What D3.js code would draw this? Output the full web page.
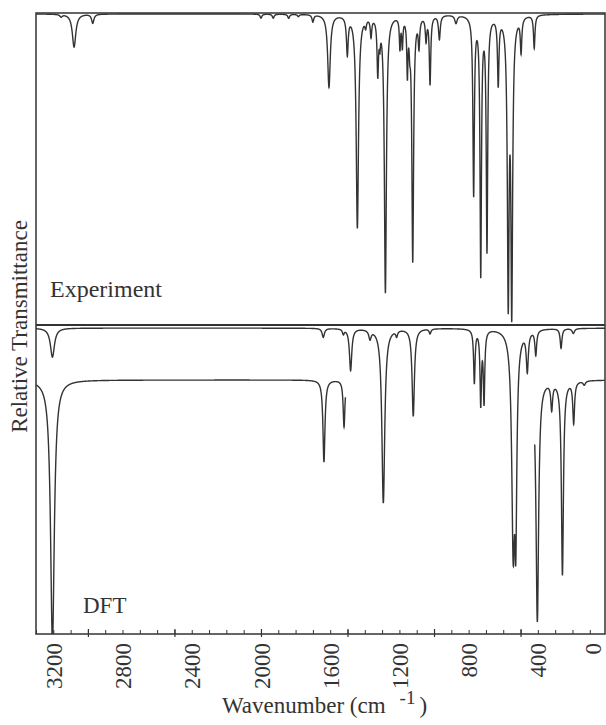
<!DOCTYPE html>
<html>
<head>
<meta charset="utf-8">
<script src="https://cdn.jsdelivr.net/npm/d3@7"></script>
<style>
html,body{margin:0;padding:0;background:#fff;}
svg{display:block;}
</style>
</head>
<body>
<svg id="chart" width="606" height="725"></svg>
<script>
// ---------------- data ----------------
const xDomain = [3300, 12];                 // wavenumber, cm-1 (left to right)
const tickLabels = [3200, 2800, 2400, 2000, 1600, 1200, 800, 400, 0];
const minorTicks = d3.range(3300, 0, -100);
const majorTicks = [3000, 2500, 2000, 1500, 1000, 500];

// Experiment: [wavenumber, minimum transmittance (%), half width (cm-1)]
const experimentBaseline = 99.7;
const experimentPeaks = [
  [3155, 98.9, 8], [3080, 89.1, 12], [2972, 96.8, 8],
  [2000, 98.4, 6], [1929, 98.4, 6], [1840, 98.4, 6], [1784, 99.0, 6], [1700, 97.4, 6],
  [1607, 76.3, 9], [1501, 87.5, 6], [1443, 31.1, 8], [1395, 97.1, 5], [1364, 93.6, 5],
  [1325, 81.7, 5], [1313, 93.6, 4], [1281, 10.3, 7], [1197, 89.7, 4], [1183, 90.4, 4],
  [1154, 81.7, 4], [1140, 92.9, 4], [1123, 20.2, 6], [1087, 90.4, 5], [1046, 92.0, 5],
  [1023, 77.6, 5], [969, 92.0, 6], [873, 97.1, 8], [771, 41.7, 5], [730, 15.4, 5],
  [694, 23.4, 5], [629, 77.9, 5], [571, 3.8, 6], [551, 1.0, 6], [497, 88.5, 5], [421, 89.1, 5]
];

// DFT, upper trace
const dftUpperBaseline = 99.0;
const dftUpperPeaks = [
  [3205, 89.6, 14], [1640, 96.1, 8], [1524, 97.4, 6], [1482, 85.4, 8], [1370, 96.1, 8],
  [1293, 42.4, 10], [1216, 97.1, 6], [1120, 70.6, 8], [1023, 97.4, 6], [767, 81.6, 5],
  [730, 74.8, 5], [711, 75.4, 5], [542, 25.6, 10], [528, 29.4, 7], [461, 86.1, 7],
  [412, 90.9, 6], [266, 92.6, 6], [195, 97.4, 8]
];

// DFT, lower trace (drawn over two wavenumber ranges)
const dftLowerBaseline = 82.2;
const dftLowerPeaks = [
  [3205, -3, 13], [1636, 55.7, 7], [1520, 67.0, 6], [403, 3.9, 9], [320, 73.5, 6],
  [258, 19.1, 7], [193, 68.6, 6], [132, 80.9, 8]
];
const dftLowerRanges = [[3300, 1512], [418, 12]];

// ---------------- drawing ----------------
const W = 606, H = 725;
const plot = {left: 36, right: 605, top: 13, mid: 325, bottom: 634};
const font = "'Liberation Serif','Times New Roman',Times,serif";
const ink = "#333";

const x = d3.scaleLinear().domain(xDomain).range([plot.left, plot.right]);
const yTop = d3.scaleLinear().domain([0, 100]).range([plot.mid, plot.top]);
const yBot = d3.scaleLinear().domain([0, 100]).range([plot.bottom, plot.mid]);

function spectrum(base, peaks, from, to) {
  const pts = [];
  for (let w = from; w >= to; w -= 0.5) {
    let t = base;
    for (const [c, m, g] of peaks) {
      const d = 1 - m / base;
      const dx = w - c;
      t *= 1 - d * g * g / (dx * dx + g * g);
    }
    pts.push([w, t]);
  }
  return pts;
}

const svg = d3.select("#chart");
const defs = svg.append("defs");
defs.append("clipPath").attr("id", "clipTop").append("rect")
  .attr("x", plot.left).attr("y", plot.top)
  .attr("width", plot.right - plot.left).attr("height", plot.mid - plot.top);
defs.append("clipPath").attr("id", "clipBot").append("rect")
  .attr("x", plot.left).attr("y", plot.mid)
  .attr("width", plot.right - plot.left).attr("height", plot.bottom - plot.mid);

const lineTop = d3.line().x(d => x(d[0])).y(d => yTop(d[1]));
const lineBot = d3.line().x(d => x(d[0])).y(d => yBot(d[1]));

const gTop = svg.append("g").attr("clip-path", "url(#clipTop)");
gTop.append("path")
  .attr("d", lineTop(spectrum(experimentBaseline, experimentPeaks, xDomain[0], xDomain[1])))
  .attr("fill", "none").attr("stroke", ink).attr("stroke-width", 1.4);

const gBot = svg.append("g").attr("clip-path", "url(#clipBot)");
gBot.append("path")
  .attr("d", lineBot(spectrum(dftUpperBaseline, dftUpperPeaks, xDomain[0], xDomain[1])))
  .attr("fill", "none").attr("stroke", ink).attr("stroke-width", 1.4);
dftLowerRanges.forEach(([a, b]) => {
  gBot.append("path")
    .attr("d", lineBot(spectrum(dftLowerBaseline, dftLowerPeaks, a, b)))
    .attr("fill", "none").attr("stroke", ink).attr("stroke-width", 1.4);
});

// frame
svg.append("rect")
  .attr("x", plot.left).attr("y", plot.top)
  .attr("width", plot.right - plot.left).attr("height", plot.bottom - plot.top)
  .attr("fill", "none").attr("stroke", ink).attr("stroke-width", 1.5);
svg.append("line")
  .attr("x1", plot.left).attr("x2", plot.right)
  .attr("y1", plot.mid).attr("y2", plot.mid)
  .attr("stroke", ink).attr("stroke-width", 2);

// ticks
const minorAxis = d3.axisBottom(x).tickValues(minorTicks).tickSize(-4).tickFormat("");
const gMinor = svg.append("g").attr("transform", `translate(0,${plot.bottom})`).call(minorAxis);
gMinor.select(".domain").remove();
gMinor.selectAll("line").attr("stroke", ink).attr("stroke-width", 1);

const majorAxis = d3.axisBottom(x).tickValues(majorTicks).tickSize(3).tickFormat("");
const gMajor = svg.append("g").attr("transform", `translate(0,${plot.bottom})`).call(majorAxis);
gMajor.select(".domain").remove();
gMajor.selectAll("line").attr("y1", -5).attr("stroke", ink).attr("stroke-width", 1.2);

const labelAxis = d3.axisBottom(x).tickValues(tickLabels).tickSize(0).tickFormat(d3.format("d"));
const gLab = svg.append("g").attr("transform", `translate(0,${plot.bottom})`).call(labelAxis);
gLab.select(".domain").remove();
gLab.selectAll("text")
  .attr("transform", "rotate(-90)")
  .attr("text-anchor", "end")
  .attr("x", -9).attr("y", 0).attr("dy", "0.35em")
  .attr("font-family", font).attr("font-size", 23).attr("fill", ink)
  .filter(d => x(d) > W - 14).attr("y", d => (W - 14) - x(d));

// axis titles
const xt = svg.append("text")
  .attr("x", 222).attr("y", 713)
  .attr("text-anchor", "start")
  .attr("font-family", font).attr("font-size", 23).attr("fill", ink);
xt.append("tspan").text("Wavenumber (cm");
xt.append("tspan").attr("dx", 14).attr("dy", -9).attr("font-size", 19).text("-1");
xt.append("tspan").attr("dx", 4).attr("dy", 9).text(")");

svg.append("text")
  .attr("transform", `translate(27,${(plot.top + plot.bottom) / 2 + 3}) rotate(-90)`)
  .attr("text-anchor", "middle")
  .attr("font-family", font).attr("font-size", 23).attr("fill", ink)
  .text("Relative Transmittance");

svg.append("text")
  .attr("x", 50).attr("y", 297)
  .attr("font-family", font).attr("font-size", 24).attr("fill", ink)
  .text("Experiment");
svg.append("text")
  .attr("x", 83).attr("y", 613)
  .attr("font-family", font).attr("font-size", 23).attr("fill", ink)
  .text("DFT");
</script>
</body>
</html>
